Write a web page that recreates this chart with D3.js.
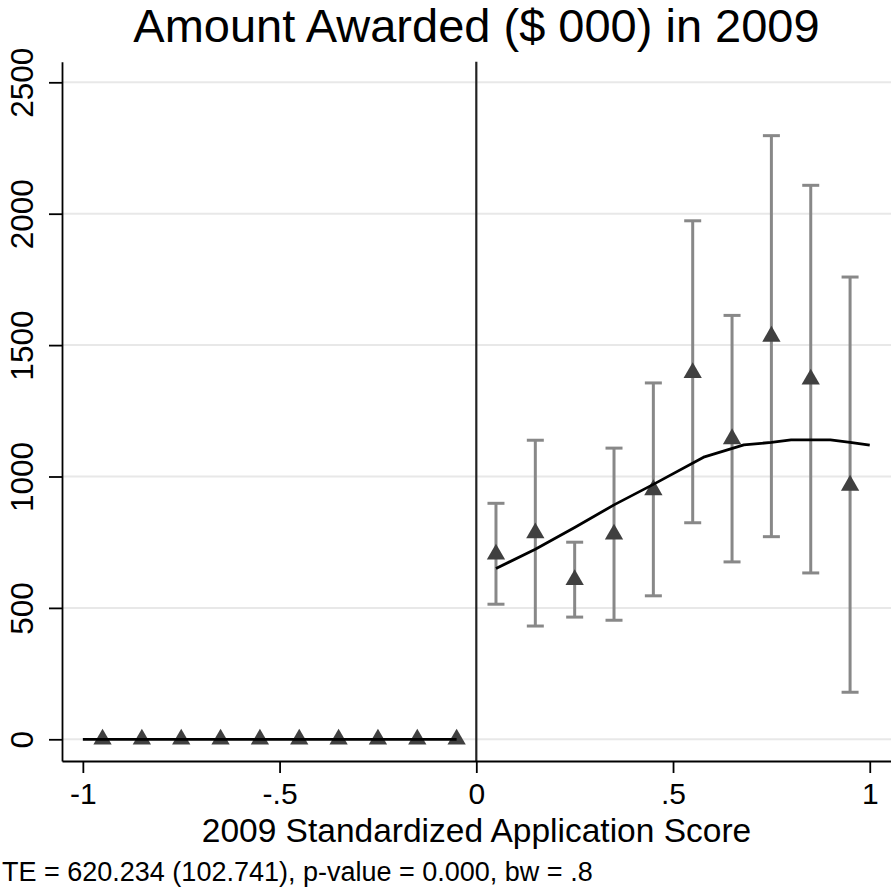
<!DOCTYPE html>
<html>
<head>
<meta charset="utf-8">
<script src="https://cdn.jsdelivr.net/npm/d3@7"></script>
<style>
  html, body { margin: 0; padding: 0; background: #fff; }
  svg { display: block; font-family: "Liberation Sans", Arial, Helvetica, sans-serif; }
</style>
</head>
<body>
<svg id="chart" width="891" height="888"></svg>
<script>
// Bin midpoints of the standardized application score
const binX = [-0.95, -0.85, -0.75, -0.65, -0.55, -0.45, -0.35, -0.25, -0.15, -0.05,
              0.05, 0.15, 0.25, 0.35, 0.45, 0.55, 0.65, 0.75, 0.85, 0.95];
// Mean amount awarded ($ 000) per bin
const binMean = [0, 0, 0, 0, 0, 0, 0, 0, 0, 0,
                 704, 785, 607, 780, 949, 1395, 1143, 1533, 1370, 966];
// Confidence interval bounds (only funded side has spread)
const ciX    = [0.05, 0.15, 0.25, 0.35, 0.45, 0.55, 0.65, 0.75, 0.85, 0.95];
const ciLow  = [514, 431, 465, 453, 546, 824, 675, 771, 633, 179];
const ciHigh = [898, 1138, 750, 1108, 1356, 1973, 1613, 2297, 2108, 1759];
// Local polynomial fit, below and above the cutoff
const fitLeftX  = [-1, -0.05];
const fitLeftY  = [0, 0];
const fitRightX = [0.05, 0.15, 0.25, 0.35, 0.45, 0.58, 0.68, 0.75, 0.80, 0.90, 0.95, 1.0];
const fitRightY = [650, 723, 806, 892, 970, 1075, 1120, 1130, 1139, 1139, 1130, 1119];
// Axis ticks
const xTicks = [-1, -0.5, 0, 0.5, 1];
const xTickLabels = ["-1", "-.5", "0", ".5", "1"];
const yTicks = [0, 500, 1000, 1500, 2000, 2500];
const cutoff = 0;

const titleText = "Amount Awarded ($ 000) in 2009";
const xTitleText = "2009 Standardized Application Score";
const noteText = "TE = 620.234 (102.741), p-value = 0.000, bw = .8";

const FONT = "'Liberation Sans', Arial, Helvetica, sans-serif";
const svg = d3.select("#chart");
const plot = { left: 62, right: 891, top: 61.7, bottom: 761 };

const x = d3.scaleLinear().domain([-1.053, 1.054]).range([plot.left, plot.right]);
const y = d3.scaleLinear().domain([-82.6, 2578.4]).range([plot.bottom, plot.top]);

// Horizontal grid
svg.append("g").selectAll("line").data(yTicks).join("line")
  .attr("x1", plot.left).attr("x2", plot.right)
  .attr("y1", d => y(d)).attr("y2", d => y(d))
  .attr("stroke", "#e8e8e8").attr("stroke-width", 2);

// Cutoff line
svg.append("line")
  .attr("x1", x(cutoff)).attr("x2", x(cutoff))
  .attr("y1", plot.top).attr("y2", plot.bottom)
  .attr("stroke", "#222").attr("stroke-width", 2.2);

// Y axis with rotated labels
const yAxis = svg.append("g")
  .attr("transform", `translate(${plot.left},0)`)
  .call(d3.axisLeft(y).tickValues(yTicks).tickSize(13).tickSizeOuter(0).tickFormat(d3.format("d")));
yAxis.select(".domain").attr("stroke", "#000").attr("stroke-width", 1.8);
yAxis.selectAll(".tick line").attr("stroke", "#000").attr("stroke-width", 1.8);
yAxis.selectAll(".tick text")
  .attr("x", null).attr("dy", null)
  .attr("transform", "translate(-29,0) rotate(-90)")
  .attr("text-anchor", "middle")
  .attr("fill", "#000")
  .style("font-size", "31.5px")
  .style("font-family", FONT);

// X axis
const xAxis = svg.append("g")
  .attr("transform", `translate(0,${plot.bottom})`)
  .call(d3.axisBottom(x).tickValues(xTicks).tickSize(12).tickSizeOuter(0)
    .tickFormat((d, i) => xTickLabels[i]));
xAxis.select(".domain").attr("stroke", "#000").attr("stroke-width", 1.8);
xAxis.selectAll(".tick line").attr("stroke", "#000").attr("stroke-width", 1.8);
xAxis.selectAll(".tick text")
  .attr("y", 43).attr("dy", 0)
  .attr("fill", "#000")
  .style("font-size", "30px")
  .style("font-family", FONT);

// Error bars with caps
const ci = ciX.map((v, i) => ({ x: v, lo: ciLow[i], hi: ciHigh[i] }));
const bars = svg.append("g").attr("stroke", "#888888").attr("stroke-width", 3).attr("fill", "none");
bars.selectAll("line.stem").data(ci).join("line").attr("class", "stem")
  .attr("x1", d => x(d.x)).attr("x2", d => x(d.x))
  .attr("y1", d => y(d.lo)).attr("y2", d => y(d.hi));
bars.selectAll("line.capHi").data(ci).join("line").attr("class", "capHi")
  .attr("x1", d => x(d.x) - 8.5).attr("x2", d => x(d.x) + 8.5)
  .attr("y1", d => y(d.hi)).attr("y2", d => y(d.hi));
bars.selectAll("line.capLo").data(ci).join("line").attr("class", "capLo")
  .attr("x1", d => x(d.x) - 8.5).attr("x2", d => x(d.x) + 8.5)
  .attr("y1", d => y(d.lo)).attr("y2", d => y(d.lo));

// Bin means as triangles
const tri = d3.symbol().type(d3.symbolTriangle).size(145);
svg.append("g").selectAll("path").data(binX.map((v, i) => ({ x: v, m: binMean[i] }))).join("path")
  .attr("d", tri)
  .attr("transform", d => `translate(${x(d.x)},${y(d.m)})`)
  .attr("fill", "#404040");

// Fitted lines
const line = d3.line().x(d => x(d[0])).y(d => y(d[1]));
svg.append("path").datum(fitLeftX.map((v, i) => [v, fitLeftY[i]]))
  .attr("d", line).attr("fill", "none").attr("stroke", "#000").attr("stroke-width", 2.8);
svg.append("path").datum(fitRightX.map((v, i) => [v, fitRightY[i]]))
  .attr("d", line).attr("fill", "none").attr("stroke", "#000").attr("stroke-width", 2.8)
  .attr("stroke-linejoin", "round");

// Titles and note
const cx = (plot.left + plot.right) / 2;
svg.append("text").attr("x", cx).attr("y", 42).attr("text-anchor", "middle")
  .style("font-size", "47px").attr("fill", "#000").text(titleText);
svg.append("text").attr("x", cx).attr("y", 842).attr("text-anchor", "middle")
  .style("font-size", "33.5px").attr("fill", "#000").text(xTitleText);
svg.append("text").attr("x", 2).attr("y", 881).attr("text-anchor", "start")
  .style("font-size", "27px").attr("fill", "#000").text(noteText);
</script>
</body>
</html>
